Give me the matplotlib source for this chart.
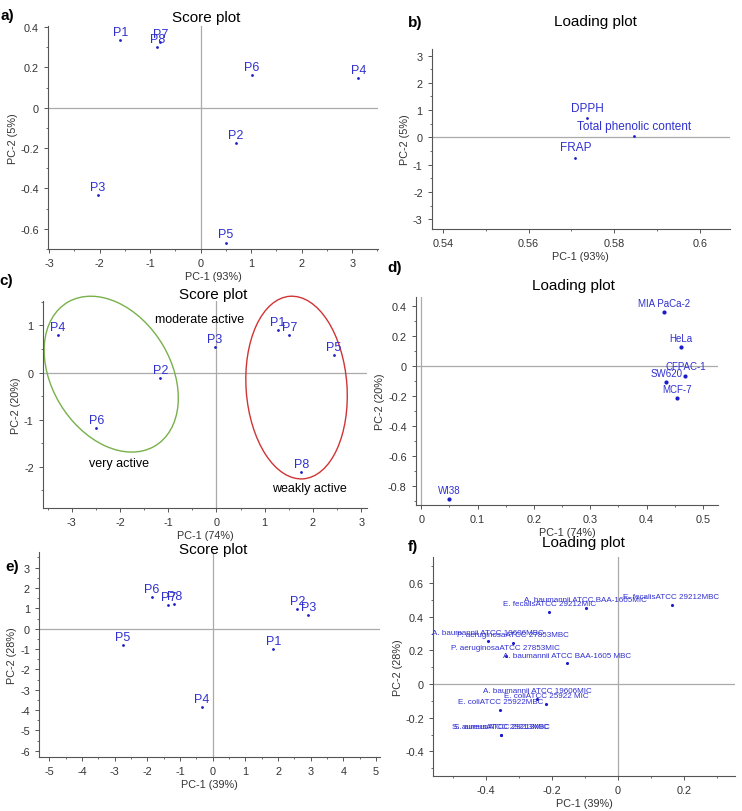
import matplotlib
matplotlib.use('Agg')
import matplotlib.pyplot as plt
from matplotlib.patches import Ellipse
from matplotlib.ticker import AutoMinorLocator, FuncFormatter

plt.rcParams['font.family'] = ['Liberation Sans', 'DejaVu Sans']
plt.rcParams['axes.unicode_minus'] = False

# a) score plot, antioxidant data
a_labels = ['P1', 'P2', 'P3', 'P4', 'P5', 'P6', 'P7', 'P8']
a_pc1 = [-1.59, 0.70, -2.04, 3.12, 0.50, 1.01, -0.80, -0.86]
a_pc2 = [0.336, -0.174, -0.431, 0.147, -0.668, 0.162, 0.327, 0.300]

# b) loading plot
b_labels = ['DPPH', 'Total phenolic content', 'FRAP']
b_pc1 = [0.5737, 0.5847, 0.5709]
b_pc2 = [0.70, 0.06, -0.74]

# c) score plot, cytotoxicity
c_labels = ['P1', 'P2', 'P3', 'P4', 'P5', 'P6', 'P7', 'P8']
c_pc1 = [1.27, -1.16, -0.03, -3.28, 2.43, -2.49, 1.51, 1.76]
c_pc2 = [0.91, -0.11, 0.55, 0.79, 0.37, -1.19, 0.79, -2.12]

# d) loading plot, cell lines
d_labels = ['MIA PaCa-2', 'HeLa', 'CFPAC-1', 'SW620', 'MCF-7', 'WI38']
d_pc1 = [0.431, 0.461, 0.469, 0.435, 0.454, 0.050]
d_pc2 = [0.360, 0.127, -0.063, -0.107, -0.212, -0.889]

# e) score plot, antimicrobial
e_labels = ['P1', 'P2', 'P3', 'P4', 'P5', 'P6', 'P7', 'P8']
e_pc1 = [1.85, 2.59, 2.93, -0.34, -2.76, -1.86, -1.36, -1.18]
e_pc2 = [-1.02, 0.95, 0.66, -3.85, -0.79, 1.54, 1.18, 1.23]

# f) loading plot, strains
f_labels = ['E. fecalisATCC 29212MBC', 'A. baumannii ATCC BAA-1605MIC',
            'E. fecalisATCC 29212MIC', 'A. baumannii ATCC 19606MBC',
            'P. aeruginosaATCC 27853MBC', 'P. aeruginosaATCC 27853MIC',
            'A. baumannii ATCC BAA-1605 MBC', 'A. baumannii ATCC 19606MIC',
            'E. coliATCC 25922 MIC', 'E. coliATCC 25922MBC',
            'S. aureusATCC 29213MIC', 'S. aureusATCC 29213MBC']
f_pc1 = [0.163, -0.098, -0.209, -0.395, -0.318, -0.341, -0.156, -0.245,
         -0.219, -0.357, -0.354, -0.354]
f_pc2 = [0.471, 0.451, 0.429, 0.258, 0.243, 0.165, 0.123, -0.087,
         -0.117, -0.153, -0.302, -0.302]

W, H = 742, 812
fig = plt.figure(figsize=(W / 100, H / 100), dpi=100)

BLUE = '#1c1cc8'
TXT = '#3030d0'


def box(l, t, r, b):
    return [l / W, 1 - b / H, (r - l) / W, (b - t) / H]


def fmt(v, pos):
    return f'{round(v, 3):g}'


def setup(ax, xlim, ylim, xticks, yticks, xlab, ylab, vline=True):
    ax.set_xlim(xlim)
    ax.set_ylim(ylim)
    ax.set_xticks(xticks)
    ax.set_yticks(yticks)
    ax.xaxis.set_major_formatter(FuncFormatter(fmt))
    ax.yaxis.set_major_formatter(FuncFormatter(fmt))
    ax.xaxis.set_minor_locator(AutoMinorLocator(2))
    ax.yaxis.set_minor_locator(AutoMinorLocator(2))
    for s in ['top', 'right']:
        ax.spines[s].set_visible(False)
    for s in ['left', 'bottom']:
        ax.spines[s].set_color('#555555')
        ax.spines[s].set_linewidth(0.8)
    ax.tick_params(which='both', colors='#555555', labelcolor='#333333',
                   labelsize=7.8, direction='out')
    ax.tick_params(which='major', length=3, width=0.7)
    ax.tick_params(which='minor', length=1.5, width=0.6)
    ax.axhline(0, color='#aaaaaa', lw=0.9, zorder=0)
    if vline:
        ax.axvline(0, color='#aaaaaa', lw=0.9, zorder=0)
    ax.set_xlabel(xlab, fontsize=7.8, color='#333333', labelpad=2)
    ax.set_ylabel(ylab, fontsize=7.8, color='#333333', labelpad=2)
    ax.set_facecolor('none')


def label_points(ax, xs, ys, labels, size, fs, off):
    ax.scatter(xs, ys, s=size, color=BLUE, zorder=3, linewidths=0)
    for x, y, t in zip(xs, ys, labels):
        ax.annotate(t, (x, y), xytext=(0, off), textcoords='offset points',
                    ha='center', va='bottom', fontsize=fs, color=TXT)


# a)
ax = fig.add_axes(box(48, 27, 378, 250))
setup(ax, (-3.02, 3.51), (-0.70, 0.405), range(-3, 4),
      [-0.6, -0.4, -0.2, 0, 0.2, 0.4], 'PC-1 (93%)', 'PC-2 (5%)')
label_points(ax, a_pc1, a_pc2, a_labels, 4, 9, 1.5)

# b)
ax = fig.add_axes(box(431.7, 50, 730, 230))
setup(ax, (0.5374, 0.607), (-3.36, 3.24), [0.54, 0.56, 0.58, 0.6],
      range(-3, 4), 'PC-1 (93%)', 'PC-2 (5%)', vline=False)
label_points(ax, b_pc1, b_pc2, b_labels, 4, 8.5, 3)

# c)
ax = fig.add_axes(box(42.7, 302, 367, 509))
setup(ax, (-3.6, 3.12), (-2.88, 1.52), range(-3, 4), range(-2, 2),
      'PC-1 (74%)', 'PC-2 (20%)')
label_points(ax, c_pc1, c_pc2, c_labels, 4, 9, 1.5)
ax.add_patch(Ellipse((-2.18, -0.035), 3.55, 2.47, angle=120, fill=False,
                     edgecolor='#78b14a', lw=1.0, clip_on=False))
ax.add_patch(Ellipse((1.66, -0.32), 2.09, 3.89, angle=4, fill=False,
                     edgecolor='#d03434', lw=1.0, clip_on=False))
ax.text(-0.34, 1.13, 'moderate active', ha='center', va='center', fontsize=9)
ax.text(-2.02, -1.92, 'very active', ha='center', va='center', fontsize=9)
ax.text(1.93, -2.46, 'weakly active', ha='center', va='center', fontsize=9)

# d)
ax = fig.add_axes(box(415.7, 298, 718, 506))
setup(ax, (-0.010, 0.527), (-0.93, 0.463), [0, 0.1, 0.2, 0.3, 0.4, 0.5],
      [-0.8, -0.6, -0.4, -0.2, 0, 0.2, 0.4], 'PC-1 (74%)', 'PC-2 (20%)')
label_points(ax, d_pc1, d_pc2, d_labels, 9, 7, 3)

# e)
ax = fig.add_axes(box(39, 553, 380, 758))
setup(ax, (-5.32, 5.12), (-6.31, 3.77), range(-5, 6), range(-6, 4),
      'PC-1 (39%)', 'PC-2 (28%)')
label_points(ax, e_pc1, e_pc2, e_labels, 4, 9, 1.5)

# f)
ax = fig.add_axes(box(433, 558, 735, 777))
setup(ax, (-0.562, 0.356), (-0.546, 0.755), [-0.4, -0.2, 0, 0.2],
      [-0.4, -0.2, 0, 0.2, 0.4, 0.6], 'PC-1 (39%)', 'PC-2 (28%)')
label_points(ax, f_pc1, f_pc2, f_labels, 5, 5.8, 3.5)

# titles and panel letters
for x, y, t in [(206, 18, 'Score plot'), (595, 22, 'Loading plot'),
                (213, 295, 'Score plot'), (573, 286, 'Loading plot'),
                (213, 550, 'Score plot'), (583, 543, 'Loading plot')]:
    fig.text(x / W, 1 - y / H, t, ha='center', va='center', fontsize=11)
for x, y, t in [(7, 16, 'a)'), (415, 23, 'b)'), (6, 281, 'c)'),
                (395, 268, 'd)'), (12, 567, 'e)'), (413, 547, 'f)')]:
    fig.text(x / W, 1 - y / H, t, ha='center', va='center', fontsize=11,
             fontweight='bold')

fig.savefig('out.png', dpi=100)
